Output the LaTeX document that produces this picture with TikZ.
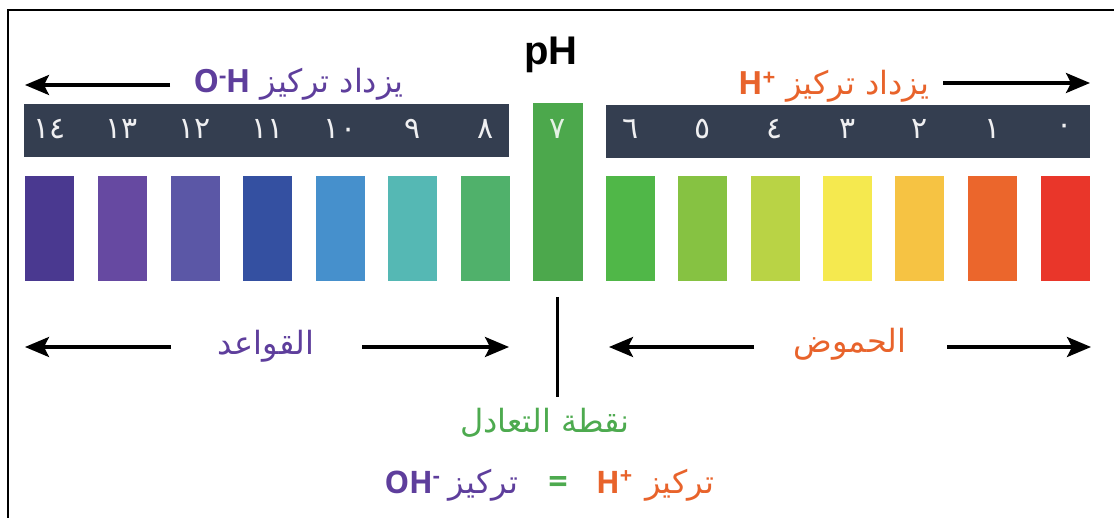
\documentclass[tikz,border=0pt]{standalone}
\usepackage{fontspec}
\setmainfont{Open Sans}
\newfontfamily\arabicfont[Script=Arabic]{DejaVu Sans}
\newfontfamily\phfont{Liberation Sans}
\TeXXeTstate=1
\usepackage{xcolor}
\usepackage{tikz}
\usetikzlibrary{arrows.meta,positioning}
\definecolor{barclr}{HTML}{343E50}
\definecolor{basepurple}{HTML}{5E3E9C}
\definecolor{acidorange}{HTML}{E8632B}
\definecolor{neutralgreen}{HTML}{4DAA4F}
\definecolor{ph14}{HTML}{4A3990}
\definecolor{ph13}{HTML}{6649A1}
\definecolor{ph12}{HTML}{5B57A6}
\definecolor{ph11}{HTML}{3450A1}
\definecolor{ph10}{HTML}{4690CC}
\definecolor{ph9}{HTML}{55B8B4}
\definecolor{ph8}{HTML}{50B16B}
\definecolor{ph7}{HTML}{4CA84C}
\definecolor{ph6}{HTML}{50B748}
\definecolor{ph5}{HTML}{86C242}
\definecolor{ph4}{HTML}{B9D345}
\definecolor{ph3}{HTML}{F5E94F}
\definecolor{ph2}{HTML}{F6C343}
\definecolor{ph1}{HTML}{EB662C}
\definecolor{ph0}{HTML}{E9362A}
\newcommand{\ionOHtop}{{\normalfont\bfseries O\textsuperscript{-}\kern-1pt H}}
\newcommand{\ionOH}{{\normalfont\bfseries OH\textsuperscript{-}}}
\newcommand{\ionH}{{\normalfont\bfseries H\textsuperscript{+}}}

\begin{document}
\begin{tikzpicture}[x=1pt, y=-1pt,
  >={Stealth[length=24pt,width=20pt,inset=5pt]},
  bar/.style={fill=barclr, draw=none, minimum height=53pt, inner sep=0pt},
  swatch/.style={minimum width=49pt, minimum height=105pt, inner sep=0pt, draw=none},
  digit/.style={text=white!92!barclr, inner sep=0pt, font=\arabicfont\fontsize{30}{32}\selectfont},
  lbl/.style={inner sep=0pt, font=\arabicfont\fontsize{32}{36}\selectfont},
  ion/.style={inner sep=0pt, font=\bfseries\fontsize{31}{34}\selectfont},
  arr/.style={->, line width=3.2pt},
]
\useasboundingbox (0,0) rectangle (1114,518);
\draw[line width=2pt] (1114,10.5) -| (8,518);

\node[inner sep=0pt, font=\phfont\bfseries\fontsize{40}{44}\selectfont, anchor=base] (phtitle) at (551,65) {pH};

\node[bar, minimum width=485pt] (basebar) at (266.5,130.5) {};
\node[bar, minimum width=484pt] (acidbar) at (848,131.5) {};
\node[fill=ph7, minimum width=50pt, minimum height=178pt, inner sep=0pt] (neutral) at (558,192) {};
\node[digit, text=white!85!ph7] (num7) at (558,129) {٧};

\foreach \x/\c/\d [count=\i] in {49.5/ph14/١٤, 122/ph13/١٣, 195/ph12/١٢, 267.5/ph11/١١, 340/ph10/١٠, 412.5/ph9/٩, 485.5/ph8/٨}{
  \node[swatch, fill=\c] (bsw\i) at (\x,228.5) {};
  \node[digit] (bnum\i) at (\x,129) {\d};
}
\foreach \x/\c/\d [count=\i] in {630.5/ph6/٦, 702.5/ph5/٥, 775/ph4/٤, 847.5/ph3/٣, 919.5/ph2/٢, 992.5/ph1/١, 1065/ph0/٠}{
  \node[swatch, fill=\c] (asw\i) at (\x,228.5) {};
  \node[digit] (anum\i) at (\x,129) {\d};
}

\node[lbl, text=basepurple, anchor=base east] (ohtop) at (404,93) {\ionOHtop\ \beginR يزداد تركيز\endR};
\node[lbl, text=acidorange, anchor=base west] (htop) at (738,95) {\ionH\ \beginR يزداد تركيز\endR};
\coordinate (ohS) at (170,85);
\coordinate (ohE) at (25,85);
\coordinate (hS) at (943,83);
\coordinate (hE) at (1090,83);
\draw[arr] (ohS) -- (ohE);
\draw[arr] (hS) -- (hE);

\node[lbl, text=basepurple, anchor=base] (baselbl) at (266,355) {\beginR القواعد\endR};
\node[lbl, text=acidorange, anchor=base] (acidlbl) at (850,353) {\beginR الحموض\endR};
\coordinate (bL1) at (171,347);
\coordinate (bL2) at (25,347);
\coordinate (bR1) at (362,347);
\coordinate (bR2) at (509,347);
\coordinate (aL1) at (754,347);
\coordinate (aL2) at (609,347);
\coordinate (aR1) at (947,347);
\coordinate (aR2) at (1091,347);
\draw[arr] (bL1) -- (bL2);
\draw[arr] (bR1) -- (bR2);
\draw[arr] (aL1) -- (aL2);
\draw[arr] (aR1) -- (aR2);

\coordinate (vtop) at (557,297);
\coordinate (vbot) at (557,397);
\draw[line width=3pt] (vtop) -- (vbot);

\node[lbl, text=neutralgreen, anchor=base] (nlbl) at (545,432) {\beginR نقطة التعادل\endR};
\node[ion, text=neutralgreen, anchor=base, font=\bfseries\fontsize{34}{36}\selectfont] (eqsign) at (558,493) {=};
\node[lbl, text=basepurple, base left=30pt of eqsign] (concOH) {\beginR تركيز\endR};
\node[ion, text=basepurple, base left=8pt of concOH] (ohbot) {\ionOH};
\node[ion, text=acidorange, base right=28pt of eqsign] (hbot) {\ionH};
\node[lbl, text=acidorange, base right=12pt of hbot] (concH) {\beginR تركيز\endR};
\end{tikzpicture}
\end{document}
